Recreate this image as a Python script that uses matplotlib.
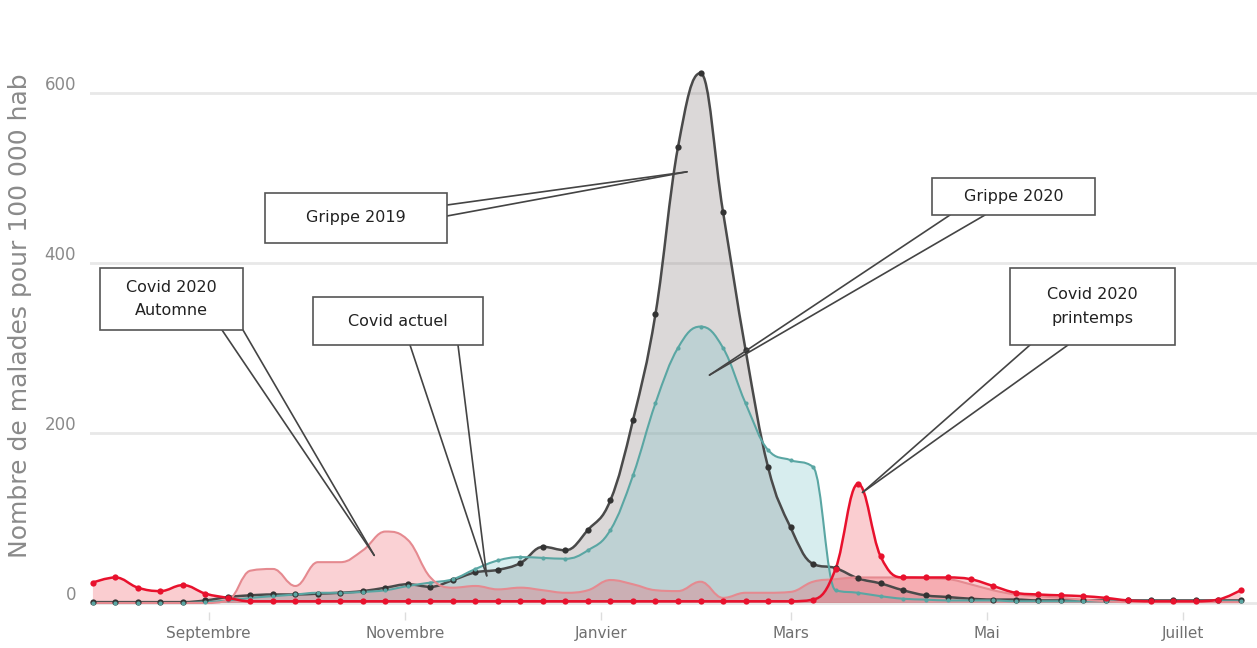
import numpy as np
import matplotlib
matplotlib.use("Agg")
import matplotlib.pyplot as plt
from matplotlib.path import Path
from matplotlib.patches import PathPatch, Rectangle
from matplotlib.transforms import ScaledTranslation
import datetime as dt

# weekly points, week 0 = 27 juillet
start = dt.date(2018, 7, 27)
weeks = np.arange(52)

grippe_2019 = [1, 1, 1, 1, 1, 3, 7, 9, 10, 10, 11, 12, 14, 18, 22, 19, 27, 36, 39, 47,
               66, 62, 86, 121, 215, 340, 536, 623, 460, 298, 160, 89, 46, 41, 29, 23, 15, 9, 7, 5,
               4, 4, 3, 3, 3, 3, 3, 3, 3, 3, 3, 3]
grippe_2020 = [0, 0, 0, 0, 0, 1, 3, 6, 8, 10, 12, 12, 13, 15, 20, 24, 28, 40, 50, 54,
               53, 52, 62, 86, 150, 235, 300, 325, 300, 235, 180, 168, 160, 15, 12, 8, 5, 4, 3, 3,
               3, 2, 2, 2, 2, 2, 2, 2, 2, 2, 2, 2]
covid_automne = [0, 0, 0, 0, 0, 0, 3, 38, 40, 20, 48, 48, 62, 84, 74, 30, 18, 20, 16, 18,
                 15, 12, 15, 27, 22, 15, 14, 25, 6, 12, 12, 13, 25, 28, 30, 30, 30, 29, 28, 22,
                 15, 10, 8, 6, 4, 2, 1, 1, 1, 1, 1, 1]
covid_printemps = [24, 30, 18, 14, 21, 11, 6, 2, 2, 2, 2, 2, 2, 2, 2, 2, 2, 2, 2, 2,
                   2, 2, 2, 2, 2, 2, 2, 2, 2, 2, 2, 2, 4, 40, 140, 55, 30, 30, 30, 28,
                   20, 12, 10, 9, 8, 6, 3, 2, 2, 2, 4, 15]

month_dates = [dt.date(2018, 9, 1), dt.date(2018, 11, 1), dt.date(2019, 1, 1),
               dt.date(2019, 3, 1), dt.date(2019, 5, 1), dt.date(2019, 7, 1)]
month_labels = ["Septembre", "Novembre", "Janvier", "Mars", "Mai", "Juillet"]
y_ticks = [0, 200, 400, 600]

# callouts: text, box (px: x0, y0, x1, y1), line starts (px), tip (week, value)
callout_texts = ["Grippe 2019", "Grippe 2020", "Covid 2020\nAutomne", "Covid actuel", "Covid 2020\nprintemps"]
callout_boxes = [(265, 193, 447, 243), (932, 178, 1095, 215), (100, 268, 243, 330),
                 (313, 297, 483, 345), (1010, 268, 1175, 345)]
callout_starts = [[(447, 205), (447, 216)], [(950, 215), (985, 215)], [(222, 330), (243, 330)],
                  [(410, 345), (458, 345)], [(1030, 345), (1068, 345)]]
callout_tips = [(26.4, 507), (27.4, 268), (12.5, 56), (17.5, 32), (34.2, 130)]

W, H = 1257, 648


def spline_path(xs, ys, close=False, smoothing=1.5):
    n = len(xs)
    lc = [(xs[i], ys[i]) for i in range(n)]
    rc = [(xs[i], ys[i]) for i in range(n)]
    for i in range(1, n - 1):
        x0, y0 = xs[i - 1], ys[i - 1]
        x1, y1 = xs[i], ys[i]
        x2, y2 = xs[i + 1], ys[i + 1]
        lcx = (smoothing * x1 + x0) / (smoothing + 1)
        lcy = (smoothing * y1 + y0) / (smoothing + 1)
        rcx = (smoothing * x1 + x2) / (smoothing + 1)
        rcy = (smoothing * y1 + y2) / (smoothing + 1)
        corr = ((rcy - lcy) * (rcx - x1)) / (rcx - lcx) + y1 - rcy
        lcy += corr
        rcy += corr
        if lcy > y0 and lcy > y1:
            lcy = max(y0, y1); rcy = 2 * y1 - lcy
        elif lcy < y0 and lcy < y1:
            lcy = min(y0, y1); rcy = 2 * y1 - lcy
        if rcy > y2 and rcy > y1:
            rcy = max(y2, y1); lcy = 2 * y1 - rcy
        elif rcy < y2 and rcy < y1:
            rcy = min(y2, y1); lcy = 2 * y1 - rcy
        lc[i] = (lcx, lcy)
        rc[i] = (rcx, rcy)
    verts = [(xs[0], ys[0])]
    codes = [Path.MOVETO]
    for i in range(1, n):
        verts += [rc[i - 1], lc[i], (xs[i], ys[i])]
        codes += [Path.CURVE4] * 3
    if close:
        verts += [(xs[-1], 0), (xs[0], 0), (xs[0], ys[0])]
        codes += [Path.LINETO, Path.LINETO, Path.CLOSEPOLY]
    return Path(verts, codes)


fig = plt.figure(figsize=(W / 100, H / 100), dpi=100)
ax = fig.add_axes([90 / W, 36 / H, (W - 90) / W, 612 / H])

series = [
    (grippe_2019, "#8a8080", 0.30, "#4a4a4a", 1.8, "#333333", 4.5),
    (grippe_2020, "#7cc4c8", 0.30, "#5aa6a3", 1.5, "#5aa6a3", 3),
    (covid_automne, "#f05a66", 0.28, "#e58a90", 1.5, None, 0),
    (covid_printemps, "#f05a66", 0.30, "#e8112d", 1.8, "#e8112d", 4.5),
]
for k, (vals, fcol, alpha, lcol, lw, mcol, ms) in enumerate(series):
    xs = list(weeks.astype(float))
    ys = [float(v) for v in vals]
    ax.add_patch(PathPatch(spline_path(xs, ys, close=True), facecolor=fcol, alpha=alpha,
                           edgecolor="none", zorder=2 + k))
    ax.add_patch(PathPatch(spline_path(xs, ys), facecolor="none", edgecolor=lcol, lw=lw,
                           zorder=6 + k))
    if mcol:
        ax.plot(weeks, vals, "o", ms=ms, color=mcol, mec="none", zorder=10 + k)

ax.set_xlim(-0.13, 51.73)
ax.set_ylim(-10.6, 709)

xt = [(d - start).days / 7 for d in month_dates]
ax.set_xticks(xt)
ax.set_xticklabels(month_labels, fontsize=11, color="#707070",
                   family=["Liberation Sans Narrow", "DejaVu Sans"])
ax.tick_params(axis="x", length=6, width=1, color="#dddddd", pad=4)
ax.set_yticks(y_ticks)
ax.set_yticklabels([str(v) for v in y_ticks], fontsize=12, color="#8a8a8a",
                   family=["Liberation Sans Narrow", "DejaVu Sans"])
ax.tick_params(axis="y", length=0, pad=10)
for lab in ax.get_yticklabels():
    lab.set_transform(lab.get_transform() + ScaledTranslation(0, 0.1, fig.dpi_scale_trans))
ax.grid(axis="y", color="#e8e8e8", lw=2, zorder=0)
ax.set_axisbelow(True)
for s in ax.spines.values():
    s.set_visible(False)

fig.text(20 / W, 1 - 316 / H, "Nombre de malades pour 100 000 hab", rotation=90,
         ha="center", va="center", fontsize=18, color="#8a8a8a")

# callout boxes with wedge lines
for text, box, starts, tip in zip(callout_texts, callout_boxes, callout_starts, callout_tips):
    for sx, sy in starts:
        ax.annotate("", xy=tip, xycoords="data", xytext=(sx / W, 1 - sy / H),
                    textcoords="figure fraction",
                    arrowprops=dict(arrowstyle="-", color="#444444", lw=1.2,
                                    shrinkA=0, shrinkB=0), zorder=20)
    x0, y0, x1, y1 = box
    fig.add_artist(Rectangle((x0 / W, 1 - y1 / H), (x1 - x0) / W, (y1 - y0) / H,
                             transform=fig.transFigure, facecolor="white",
                             edgecolor="#555555", lw=1.2, zorder=21))
    fig.text((x0 + x1) / 2 / W, 1 - (y0 + y1) / 2 / H, text, ha="center", va="center",
             fontsize=11.5, color="#222222", linespacing=1.7, zorder=22)

fig.savefig("out.png", dpi=100)
